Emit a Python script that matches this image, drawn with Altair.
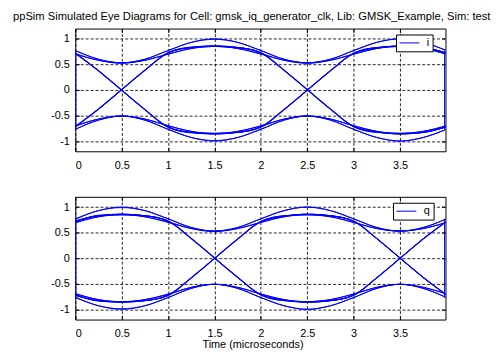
import altair as alt
import pandas as pd

TITLE = "ppSim Simulated Eye Diagrams for Cell: gmsk_iq_generator_clk, Lib: GMSK_Example, Sim: test"
X_LABEL = "Time (microseconds)"
X_TICKS = [0, 0.5, 1, 1.5, 2, 2.5, 3, 3.5]
Y_TICKS = [-1, -0.5, 0, 0.5, 1]

# sample times of every trace (microseconds)
T = [0, 0.25, 0.5, 0.75, 1.0, 1.25, 1.5, 1.75, 2.0, 2.25, 2.5, 2.75, 3.0, 3.25, 3.5, 3.75, 4.0]

I_TRACES = [
    [0.77, 0.60, 0.53, 0.60, 0.77, 0.93, 1.00, 0.93, 0.77, 0.60, 0.53, 0.60, 0.77, 0.93, 1.00, 0.93, 0.77],
    [0.70, 0.58, 0.53, 0.60, 0.77, 0.93, 0.99, 0.93, 0.77, 0.60, 0.53, 0.58, 0.70, 0.81, 0.85, 0.83, 0.72],
    [0.77, 0.60, 0.53, 0.58, 0.70, 0.81, 0.85, 0.83, 0.72, 0.38, 0.00, -0.38, -0.72, -0.83, -0.85, -0.81, -0.70],
    [0.71, 0.58, 0.52, 0.58, 0.70, 0.81, 0.86, 0.83, 0.73, 0.39, 0.01, -0.37, -0.71, -0.82, -0.86, -0.83, -0.72],
    [-0.72, -0.38, 0.00, 0.38, 0.72, 0.83, 0.85, 0.81, 0.70, 0.58, 0.53, 0.60, 0.77, 0.93, 1.00, 0.93, 0.77],
    [-0.73, -0.37, 0.01, 0.39, 0.73, 0.83, 0.86, 0.81, 0.71, 0.58, 0.52, 0.58, 0.70, 0.81, 0.86, 0.83, 0.72],
    [-0.72, -0.38, 0.00, 0.38, 0.72, 0.83, 0.85, 0.83, 0.72, 0.38, 0.00, -0.38, -0.72, -0.83, -0.85, -0.81, -0.70],
    [-0.71, -0.37, 0.01, 0.39, 0.73, 0.84, 0.86, 0.83, 0.73, 0.39, 0.01, -0.37, -0.71, -0.82, -0.86, -0.83, -0.72],
    [-0.77, -0.59, -0.51, -0.59, -0.77, -0.93, -1.00, -0.93, -0.77, -0.59, -0.51, -0.59, -0.77, -0.93, -1.00, -0.93, -0.77],
    [-0.70, -0.57, -0.51, -0.59, -0.77, -0.93, -0.99, -0.93, -0.77, -0.59, -0.51, -0.57, -0.70, -0.81, -0.85, -0.83, -0.72],
    [-0.77, -0.59, -0.51, -0.57, -0.70, -0.81, -0.85, -0.83, -0.72, -0.38, 0.00, 0.38, 0.72, 0.83, 0.85, 0.81, 0.70],
    [-0.71, -0.57, -0.51, -0.57, -0.70, -0.81, -0.86, -0.83, -0.73, -0.39, -0.01, 0.37, 0.71, 0.82, 0.86, 0.83, 0.72],
    [0.72, 0.38, 0.00, -0.38, -0.72, -0.83, -0.85, -0.81, -0.70, -0.57, -0.51, -0.59, -0.77, -0.93, -1.00, -0.93, -0.77],
    [0.73, 0.37, -0.01, -0.39, -0.73, -0.83, -0.86, -0.81, -0.71, -0.57, -0.51, -0.57, -0.70, -0.81, -0.86, -0.83, -0.72],
    [0.72, 0.38, 0.00, -0.38, -0.72, -0.83, -0.85, -0.83, -0.72, -0.38, 0.00, 0.38, 0.72, 0.83, 0.85, 0.81, 0.70],
    [0.71, 0.37, -0.01, -0.39, -0.73, -0.84, -0.86, -0.83, -0.73, -0.39, -0.01, 0.37, 0.71, 0.82, 0.86, 0.83, 0.72],
]

Q_TRACES = [
    [0.77, 0.93, 1.00, 0.93, 0.77, 0.60, 0.53, 0.60, 0.77, 0.93, 1.00, 0.93, 0.77, 0.60, 0.53, 0.60, 0.77],
    [0.76, 0.93, 0.99, 0.93, 0.77, 0.60, 0.53, 0.58, 0.70, 0.81, 0.85, 0.83, 0.72, 0.38, 0.00, -0.38, -0.72],
    [0.70, 0.81, 0.85, 0.83, 0.72, 0.38, 0.00, -0.38, -0.72, -0.83, -0.85, -0.81, -0.70, -0.57, -0.51, -0.59, -0.77],
    [0.69, 0.81, 0.86, 0.83, 0.73, 0.39, 0.01, -0.37, -0.71, -0.82, -0.86, -0.83, -0.72, -0.38, 0.00, 0.38, 0.72],
    [0.72, 0.83, 0.85, 0.81, 0.70, 0.58, 0.53, 0.60, 0.77, 0.93, 1.00, 0.93, 0.77, 0.60, 0.53, 0.58, 0.70],
    [0.73, 0.83, 0.86, 0.81, 0.71, 0.58, 0.52, 0.58, 0.70, 0.81, 0.86, 0.83, 0.72, 0.38, 0.00, -0.38, -0.72],
    [0.72, 0.83, 0.85, 0.83, 0.72, 0.38, 0.00, -0.38, -0.72, -0.83, -0.85, -0.81, -0.70, -0.57, -0.51, -0.57, -0.70],
    [0.71, 0.84, 0.86, 0.83, 0.73, 0.39, 0.01, -0.37, -0.71, -0.82, -0.86, -0.83, -0.73, -0.39, -0.01, 0.37, 0.71],
    [-0.77, -0.93, -1.00, -0.93, -0.77, -0.59, -0.51, -0.59, -0.77, -0.93, -1.00, -0.93, -0.77, -0.59, -0.51, -0.59, -0.77],
    [-0.76, -0.93, -0.99, -0.93, -0.77, -0.59, -0.51, -0.57, -0.70, -0.81, -0.85, -0.83, -0.72, -0.38, 0.00, 0.38, 0.72],
    [-0.70, -0.81, -0.85, -0.83, -0.72, -0.38, 0.00, 0.38, 0.72, 0.83, 0.85, 0.81, 0.70, 0.58, 0.53, 0.60, 0.77],
    [-0.69, -0.81, -0.86, -0.83, -0.73, -0.39, -0.01, 0.37, 0.71, 0.82, 0.86, 0.83, 0.72, 0.38, 0.00, -0.38, -0.72],
    [-0.72, -0.83, -0.85, -0.81, -0.70, -0.57, -0.51, -0.59, -0.77, -0.93, -1.00, -0.93, -0.77, -0.59, -0.51, -0.57, -0.70],
    [-0.73, -0.83, -0.86, -0.81, -0.71, -0.57, -0.51, -0.57, -0.70, -0.81, -0.86, -0.83, -0.72, -0.38, 0.00, 0.38, 0.72],
    [-0.72, -0.83, -0.85, -0.83, -0.72, -0.38, 0.00, 0.38, 0.72, 0.83, 0.85, 0.81, 0.70, 0.58, 0.53, 0.58, 0.70],
    [-0.71, -0.84, -0.86, -0.83, -0.73, -0.39, -0.01, 0.37, 0.71, 0.82, 0.86, 0.83, 0.73, 0.39, 0.01, -0.37, -0.71],
]

# vertical wrap-around segments at the window edges
EDGE_T = [0.005, 3.98]
I_EDGE_LO = [-0.77, -0.77]
I_EDGE_HI = [0.77, 0.77]
Q_EDGE_LO = [-0.77, -0.77]
Q_EDGE_HI = [0.77, 0.77]

X_MAX = 3.99
BLUE = "#0000ff"
FONT = "Liberation Sans"


def traces_frame(traces, name):
    rows = []
    for k, vals in enumerate(traces):
        for j, (t, v) in enumerate(zip(T, vals)):
            rows.append({"trace": k, "k": j, "t": t, "v": v, "series": name})
    return pd.DataFrame(rows)


def panel(traces, lo, hi, name, legend_x, legend_y, title=None, xtitle=None):
    df = traces_frame(traces, name)
    grid_style = dict(gridColor="#000000", gridDash=[3, 2], gridOpacity=0.85)
    tick_style = dict(ticks=True, tickSize=4, tickColor="black", tickWidth=1, offset=-4, domain=False)
    xaxis = alt.Axis(values=X_TICKS, labelExpr="'' + datum.value", grid=True,
                     labelPadding=8, labelOverlap=False, title=xtitle, titlePadding=0,
                     titleX=179, **grid_style, **tick_style)
    yaxis = alt.Axis(values=Y_TICKS, labelExpr="'' + datum.value", grid=True,
                     labelPadding=6, labelOverlap=False, title=None, **grid_style, **tick_style)
    xaxis_top = alt.Axis(values=X_TICKS, orient="top", labels=False, grid=False, title=None,
                         **tick_style)
    yaxis_right = alt.Axis(values=Y_TICKS, orient="right", labels=False, grid=False, title=None,
                           **tick_style)
    xs = alt.Scale(domain=[0, X_MAX], nice=False, zero=False)
    ys = alt.Scale(domain=[-1.2, 1.2], nice=False, zero=False)
    lines = alt.Chart(df).mark_line(interpolate="monotone", strokeWidth=1, clip=True).encode(
        x=alt.X("t:Q", scale=xs, axis=xaxis),
        y=alt.Y("v:Q", scale=ys, axis=yaxis),
        detail="trace:N",
        order="k:Q",
        color=alt.Color("series:N", scale=alt.Scale(domain=[name], range=[BLUE]),
                        legend=alt.Legend(orient="none", legendX=legend_x, legendY=legend_y,
                                          title=None, symbolType="M-1,0H3", symbolSize=100,
                                          symbolStrokeWidth=1, labelFont=FONT, labelFontSize=11,
                                          labelColor="black", fillColor="white",
                                          strokeColor="black", padding=3, labelOffset=17,
                                          labelExpr="datum.label + '\u00a0\u00a0\u00a0'")),
    )
    edges = pd.DataFrame({"t": EDGE_T, "lo": lo, "hi": hi})
    rules = alt.Chart(edges).mark_rule(color=BLUE, strokeWidth=1).encode(
        x=alt.X("t:Q", scale=xs, axis=xaxis_top),
        y=alt.Y("lo:Q", scale=ys, axis=yaxis_right), y2="hi:Q")
    ch = alt.layer(lines, rules).resolve_axis(x="independent", y="independent").properties(
        width=374, height=124)
    if title is not None:
        ch = ch.properties(title=alt.TitleParams(text=title, anchor="start", frame="group", dx=-63,
                                                 fontSize=11.3, font=FONT, fontWeight="normal",
                                                 color="black", baseline="alphabetic", offset=-3))
    return ch


top = panel(I_TRACES, I_EDGE_LO, I_EDGE_HI, "i", 324, 6, title=TITLE)
bottom = panel(Q_TRACES, Q_EDGE_LO, Q_EDGE_HI, "q", 321, 6, xtitle=X_LABEL)

chart = alt.vconcat(top, bottom, spacing=46, bounds="flush").resolve_scale(
    color="independent").resolve_legend(color="independent").properties(
    padding={"left": 4, "top": 0, "right": 0, "bottom": 0}, background="white"
).configure_view(stroke="black", strokeWidth=1).configure_axis(
    labelFont=FONT, labelFontSize=11, labelColor="black", titleFont=FONT,
    titleFontSize=11, titleFontWeight="normal", titleColor="black"
)

chart.save("out.html", embed_options={"renderer": "svg", "actions": False})
